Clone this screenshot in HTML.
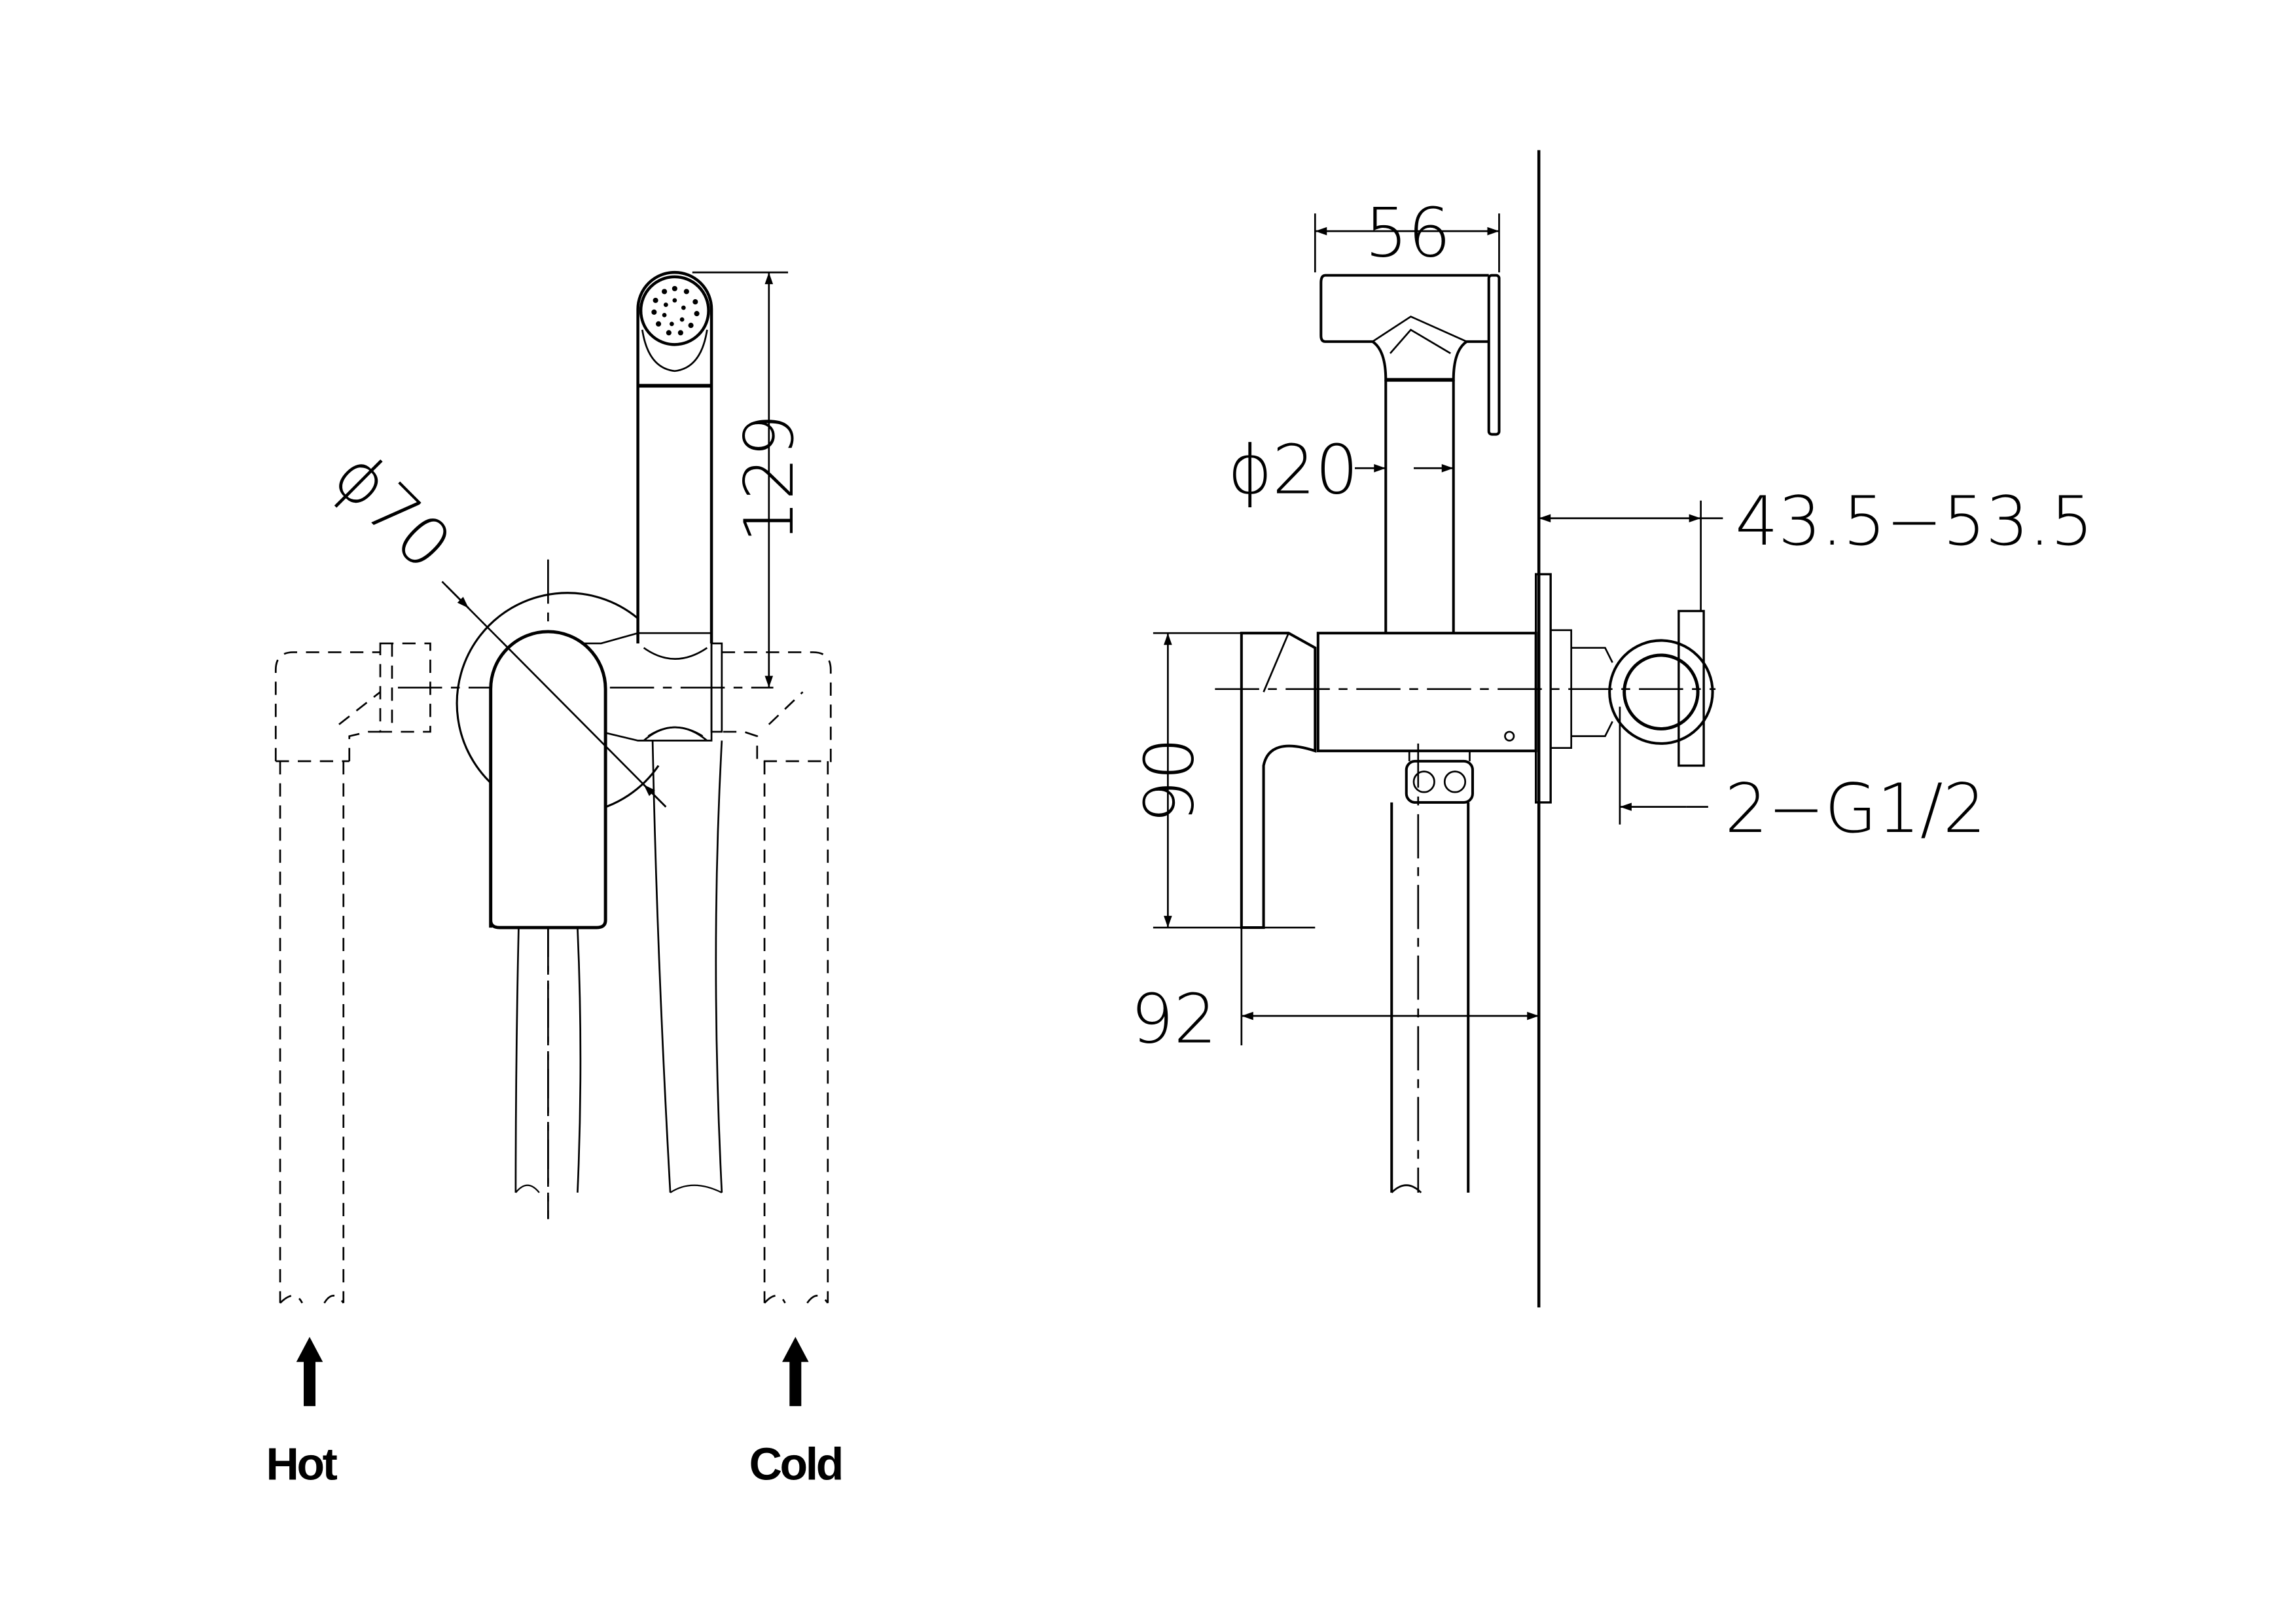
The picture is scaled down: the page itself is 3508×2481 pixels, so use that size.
<!DOCTYPE html>
<html><head><meta charset="utf-8"><style>
html,body{margin:0;padding:0;background:#fff;}
svg{display:block;}
text{font-family:"DejaVu Sans","Liberation Sans",sans-serif;font-weight:200;}
</style></head><body>
<svg width="3508" height="2481" viewBox="0 0 1559 1103" xmlns="http://www.w3.org/2000/svg">
<defs>
<marker id="ar" viewBox="0 0 10 10" refX="10" refY="5" markerWidth="14" markerHeight="8" markerUnits="userSpaceOnUse" orient="auto-start-reverse"><path d="M0,1.5 L10,5 L0,8.5 Z" fill="#000"/></marker>
</defs>
<rect width="1559" height="1103" fill="#fff"/>
<g fill="none" stroke="#000" stroke-width="1.2">
<g stroke-dasharray="9,6">
<path d="M187,517 L187,455 Q187,443 199,443 L258,443"/>
<path d="M237,517 L237,500 L250,497 L258,497"/>
<line x1="187" y1="517" x2="237" y2="517"/>
<line x1="230" y1="492" x2="258" y2="470"/>
<line x1="190" y1="517" x2="190" y2="885"/>
<line x1="233" y1="517" x2="233" y2="885"/>
<rect x="258" y="437" width="34" height="60"/>
<line x1="266" y1="437" x2="266" y2="497"/>
<path d="M490,443 L552,443 Q564,443 564,455 L564,517 L514,517 L514,500 L505,497 L490,497"/>
<line x1="522" y1="492" x2="545" y2="470"/>
<line x1="519" y1="517" x2="519" y2="885"/>
<line x1="562" y1="517" x2="562" y2="885"/>
<path d="M190,885 Q200,875 205,885 M220,885 Q226,875 233,885"/>
<path d="M519,885 Q528,875 533,885 M548,885 Q555,875 562,885"/>
</g>
<path d="M433,420 A75,75 0 1 0 447,520" stroke-width="1.4"/>
<g stroke-dasharray="30,6,6,6">
<line x1="372" y1="380" x2="372" y2="828"/>
<line x1="270" y1="467" x2="525" y2="467"/>
</g>
<path d="M372,437 L408,437 L433,430 L483,430 L483,503 L433,503 L408,497 L372,497"/>
<rect x="483" y="437" width="7" height="60"/>
<path d="M437,440 Q458,455 480,440" />
<path d="M437,503 Q458,485 480,503" />
<path d="M440,500 Q458,488 477,500" />
<path d="M433,437 L433,210 A25,25 0 0 1 483,210 L483,437" stroke-width="2"/>
<line x1="433" y1="262" x2="483" y2="262" stroke-width="2.5"/>
<circle cx="458" cy="211" r="23" stroke-width="2"/>
<path d="M436,224 Q440,250 458,252 Q476,250 480,224"/>
<g fill="#000" stroke="none">
<circle cx="458" cy="196" r="1.8"/><circle cx="466" cy="198" r="1.8"/><circle cx="472" cy="205" r="1.8"/><circle cx="473" cy="213" r="1.8"/><circle cx="469" cy="221" r="1.8"/><circle cx="462" cy="226" r="1.8"/><circle cx="454" cy="226" r="1.8"/><circle cx="447" cy="220" r="1.8"/><circle cx="444" cy="212" r="1.8"/><circle cx="445" cy="204" r="1.8"/><circle cx="451" cy="198" r="1.8"/>
<circle cx="458" cy="204" r="1.5"/><circle cx="464" cy="209" r="1.5"/><circle cx="463" cy="217" r="1.5"/><circle cx="456" cy="220" r="1.5"/><circle cx="451" cy="214" r="1.5"/><circle cx="452" cy="207" r="1.5"/>
</g>
<path d="M333,630 L333,468 A39,39 0 0 1 411,468 L411,625 Q411,630 405,630 L339,630 Q333,630 333,625" fill="#fff" stroke-width="2.2"/>
<path d="M352,630 Q350,720 350,810 M392,630 Q396,720 392,810"/>
<path d="M443,503 Q446,650 455,810 M490,503 Q482,650 490,810"/>
<path d="M350,810 Q358,800 366,810 M455,810 Q470,800 490,810" stroke-width="1"/>
<line x1="372" y1="630" x2="372" y2="828" stroke-dasharray="30,6,6,6"/>
<line x1="470" y1="185" x2="535" y2="185"/>
<line x1="522" y1="185" x2="522" y2="467" marker-start="url(#ar)" marker-end="url(#ar)"/>
<line x1="300" y1="395" x2="452" y2="548"/>
<line x1="303" y1="398" x2="318" y2="413" marker-end="url(#ar)"/>
<line x1="452" y1="548" x2="437" y2="533" marker-end="url(#ar)"/>

<line x1="1045" y1="102" x2="1045" y2="888" stroke-width="2"/>
<line x1="893" y1="145" x2="893" y2="185"/><line x1="1018" y1="145" x2="1018" y2="185"/>
<line x1="893" y1="157" x2="1018" y2="157" marker-start="url(#ar)" marker-end="url(#ar)"/>
<path d="M1011,187 L900,187 Q897,187 897,192 L897,228 Q897,232 900,232 L932,232 Q941,238 941,258 L987,258 Q987,238 996,232 L1011,232" stroke-width="1.8"/>
<path d="M932,232 L958,215 L996,232 M944,240 L958,224 L985,240"/>
<rect x="1011" y="187" width="7" height="108" rx="2" stroke-width="1.8"/>
<line x1="941" y1="258" x2="987" y2="258" stroke-width="2.5"/>
<line x1="941" y1="258" x2="941" y2="430" stroke-width="1.8"/>
<line x1="987" y1="258" x2="987" y2="430" stroke-width="1.8"/>
<line x1="920" y1="318" x2="941" y2="318" marker-end="url(#ar)"/>
<line x1="960" y1="318" x2="987" y2="318" marker-end="url(#ar)"/>
<rect x="895" y="430" width="148" height="80" stroke-width="1.8"/>
<circle cx="1025" cy="500" r="3"/>
<rect x="1043" y="390" width="10" height="155" stroke-width="1.5"/>
<rect x="1053" y="428" width="14" height="80"/>
<path d="M1067,440 L1090,440 L1095,450 M1067,500 L1090,500 L1095,490" />
<circle cx="1128" cy="470" r="35" stroke-width="1.8"/>
<circle cx="1128" cy="470" r="25" stroke-width="2.2"/>
<rect x="1140" y="415" width="17" height="105" stroke-width="1.5"/>
<path d="M843,430 L875,430 L893,440 L893,510 Q862,500 858,520 L858,630 L843,630 Z" stroke-width="1.8"/>
<path d="M875,430 L858,470" />
<rect x="955" y="517" width="45" height="28" rx="6" stroke-width="1.8"/>
<circle cx="967" cy="531" r="7"/><circle cx="988" cy="531" r="7"/>
<line x1="957" y1="510" x2="957" y2="517"/><line x1="998" y1="510" x2="998" y2="517"/>
<path d="M945,545 L945,810 M997,545 L997,810" stroke-width="1.8"/>
<path d="M945,810 Q955,800 965,810"/>
<line x1="825" y1="468" x2="1165" y2="468" stroke-dasharray="30,6,6,6"/>
<line x1="963" y1="505" x2="963" y2="810" stroke-dasharray="30,6,6,6"/>
<line x1="783" y1="430" x2="843" y2="430"/><line x1="783" y1="630" x2="893" y2="630"/>
<line x1="793" y1="430" x2="793" y2="630" marker-start="url(#ar)" marker-end="url(#ar)"/>
<line x1="843" y1="630" x2="843" y2="710"/>
<line x1="843" y1="690" x2="1045" y2="690" marker-start="url(#ar)" marker-end="url(#ar)"/>
<line x1="1155" y1="340" x2="1155" y2="415"/>
<line x1="1045" y1="352" x2="1155" y2="352" marker-start="url(#ar)" marker-end="url(#ar)"/>
<line x1="1155" y1="352" x2="1170" y2="352"/>
<line x1="1100" y1="480" x2="1100" y2="560"/>
<line x1="1100" y1="548" x2="1145" y2="548" marker-start="url(#ar)"/>
<line x1="1145" y1="548" x2="1160" y2="548"/>
</g>
<g fill="#000">
<path d="M210,908 L219,925 L214,925 L214,955 L206,955 L206,925 L201,925 Z"/>
<path d="M540,908 L549,925 L544,925 L544,955 L536,955 L536,925 L531,925 Z"/>
</g>
<g font-size="31" text-anchor="middle">
<text x="204" y="1005" style="font-family:'Liberation Sans',sans-serif;font-weight:bold;letter-spacing:-1.5px">Hot</text>
<text x="540" y="1005" style="font-family:'Liberation Sans',sans-serif;font-weight:bold;letter-spacing:-1.5px">Cold</text>
</g>
<g font-size="46" fill="#000" text-anchor="middle">
<text x="0" y="0" transform="translate(538,325) rotate(-90)">129</text>
<text x="0" y="0" transform="translate(255,358) rotate(45)">ϕ70</text>
<text x="956" y="174">56</text>
<text x="878" y="335">ϕ20</text>
<text x="1300" y="370">43.5−53.5</text>
<text x="1260" y="565">2−G1/2</text>
<text x="0" y="0" transform="translate(810,530) rotate(-90)">90</text>
<text x="797" y="708">92</text>
</g>
</svg>
</body></html>
